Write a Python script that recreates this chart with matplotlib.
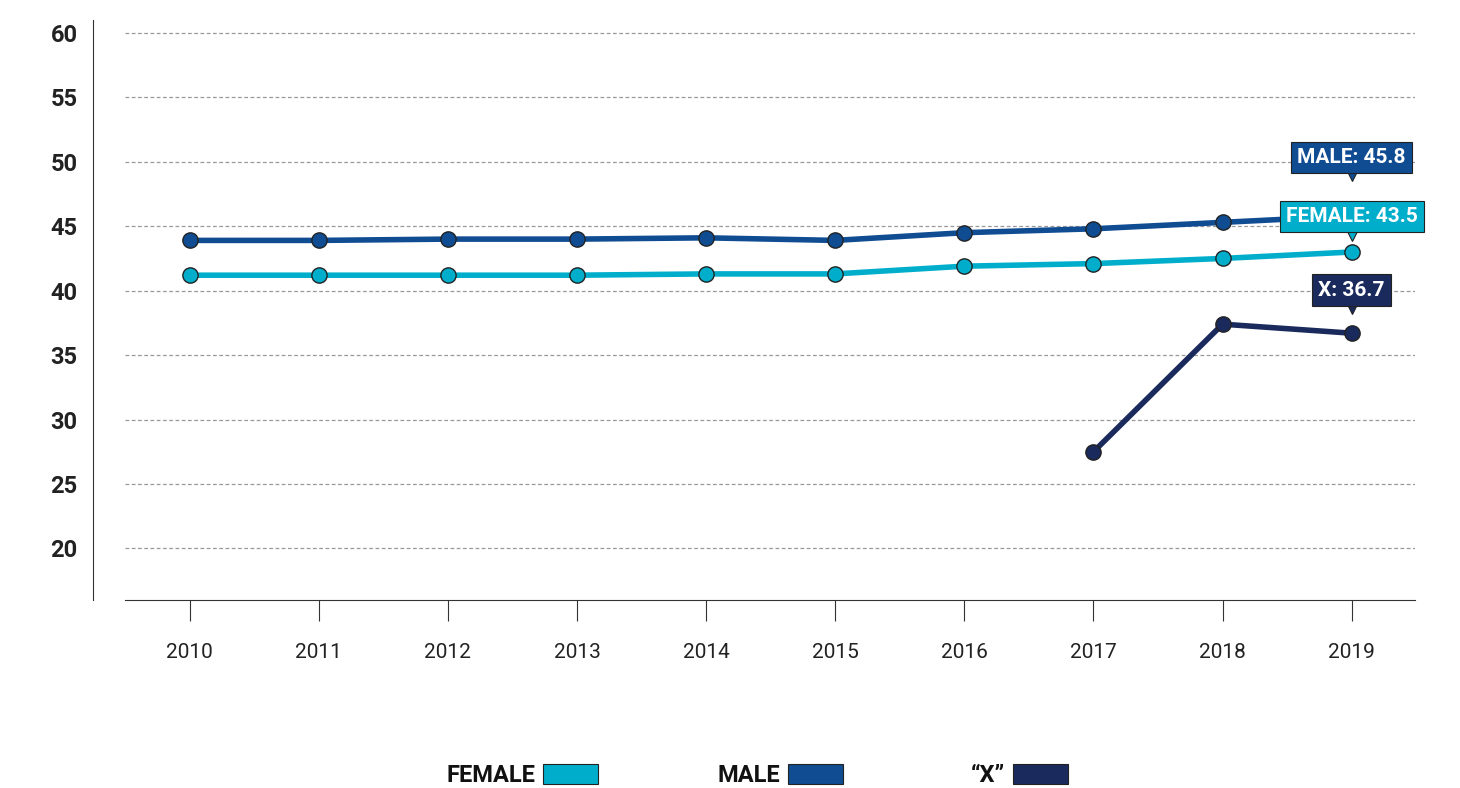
import matplotlib
matplotlib.use("Agg")
import matplotlib.pyplot as plt
from matplotlib.patches import Rectangle

years = [2010, 2011, 2012, 2013, 2014, 2015, 2016, 2017, 2018, 2019]
female = [41.2, 41.2, 41.2, 41.2, 41.3, 41.3, 41.9, 42.1, 42.5, 43.0]
male = [43.9, 43.9, 44.0, 44.0, 44.1, 43.9, 44.5, 44.8, 45.3, 45.8]
x_years = [2017, 2018, 2019]
x_vals = [27.5, 37.4, 36.7]
yticks = [20, 25, 30, 35, 40, 45, 50, 55, 60]

c_f, c_m, c_x = "#00AECB", "#0F4C92", "#1B2A5C"
plt.rcParams['font.family'] = ['Roboto', 'DejaVu Sans']

fig = plt.figure(figsize=(14.6, 7.88), dpi=100)
ax = fig.add_axes([125/1460, 1-600/788, (1415-125)/1460, (600-20)/788])
ax.set_xlim(2009.5, 2019.49)
ax.set_ylim(16, 61)
for t in yticks:
    ax.axhline(t, color="#999999", ls=(0, (3, 2)), lw=0.9, zorder=0)
for s in ["top", "right"]:
    ax.spines[s].set_visible(False)
ax.spines["left"].set_position(("outward", 32 * 72 / 100))
ax.spines["left"].set_color("#333333")
ax.spines["bottom"].set_color("#333333")
ax.set_yticks(yticks)
ax.set_yticklabels([str(t) for t in yticks], fontsize=17, fontweight="bold", color="#222222")
ax.tick_params(axis="y", length=0, pad=11)
ax.set_xticks(years)
ax.set_xticklabels([str(y) for y in years], fontsize=15, color="#222222")
ax.tick_params(axis="x", length=15, pad=16, color="#333333")

for ys, xs, c in [(female, years, c_f), (male, years, c_m), (x_vals, x_years, c_x)]:
    ax.plot(xs, ys, color=c, lw=4, marker="o", ms=11, mfc=c, mec="#222222", mew=1, zorder=3)

def label(x, y, text, c, dy):
    ax.annotate(text, (x, y + dy), xytext=(0, 0), textcoords="offset points",
                ha="center", va="bottom", fontsize=15, fontweight="bold", color="white",
                bbox=dict(boxstyle="square,pad=0.3", fc=c, ec="#222222", lw=0.8), zorder=6)
    ax.plot([x], [y + dy - 0.5], marker="v", ms=12, color=c, mec="#222222", mew=0.8, zorder=5)

label(2019, 45.8, "MALE: 45.8", c_m, 3.8)
label(2019, 43.0, "FEMALE: 43.5", c_f, 2.0)
label(2019, 36.7, "X: 36.7", c_x, 2.6)

for txt, x0, c in [("FEMALE", 543, c_f), ("MALE", 788, c_m), ("\u201cX\u201d", 1013, c_x)]:
    fig.text((x0 - 8)/1460, 1-775/788, txt, ha="right", va="center", fontsize=17, fontweight="bold", color="#111111")
    fig.patches.append(Rectangle((x0/1460, 1-784/788), 55/1460, 20/788, transform=fig.transFigure,
                                 fc=c, ec="#222222", lw=0.8))

fig.savefig("out.png", dpi=100)
